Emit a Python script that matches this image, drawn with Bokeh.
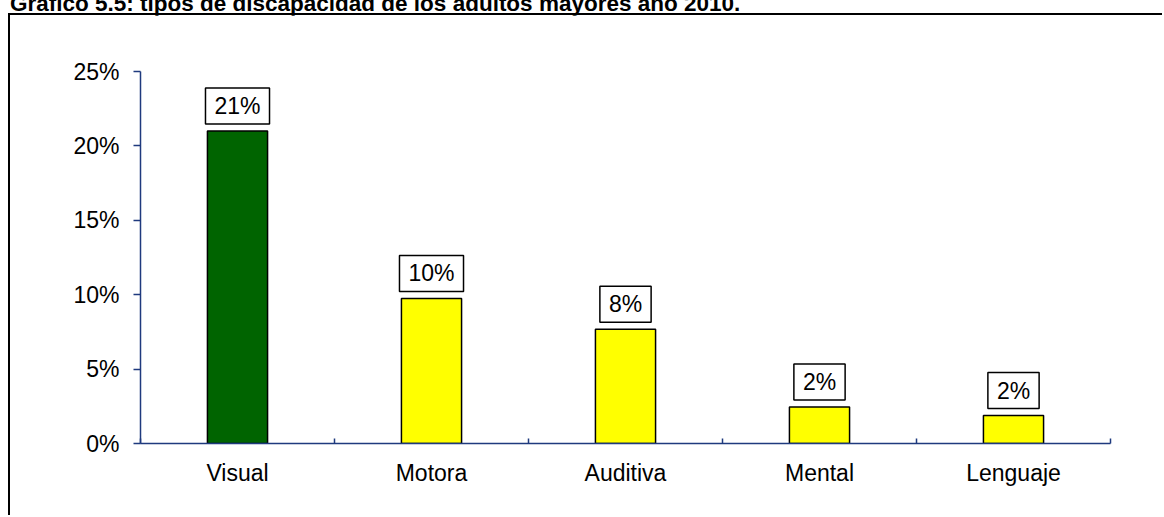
from bokeh.plotting import figure
from bokeh.models import (Range1d, LinearAxis, FixedTicker, PrintfTickFormatter,
                          ColumnDataSource, Div)
from bokeh.layouts import column
from bokeh.core.properties import value
from bokeh.embed import file_html
from bokeh.resources import INLINE

# ---- data ----
categories = ["Visual", "Motora", "Auditiva", "Mental", "Lenguaje"]
values = [21.0, 9.75, 7.67, 2.45, 1.88]
value_labels = ["21%", "10%", "8%", "2%", "2%"]
bar_colors = ["#006400", "#FFFF00", "#FFFF00", "#FFFF00", "#FFFF00"]
y_ticks = [0, 5, 10, 15, 20, 25]
title_text = "Gráfico 5.5: tipos de discapacidad de los adultos mayores año 2010."

FONT = "Liberation Sans"
NAVY = "#1f3a7e"

xs = [i + 0.5 for i in range(len(categories))]
source = ColumnDataSource(dict(x=xs, top=values, color=bar_colors, label=value_labels))

# title (partly cut by the top edge, as in the reference)
title_div = Div(text=title_text, width=1150, height=15,
                styles={"margin-left": "10px", "margin-top": "-7px",
                        "font-family": FONT, "font-weight": "bold", "font-size": "22.5px",
                        "line-height": "22.5px", "white-space": "nowrap", "color": "black"})

p = figure(width=1154, height=502, output_backend="svg", toolbar_location=None,
           x_range=Range1d(0, len(categories)), y_range=Range1d(0, 25),
           x_axis_type=None, y_axis_type=None,
           min_border_left=130, min_border_right=54, min_border_top=56, min_border_bottom=74)
p.styles = {"margin-left": "8px", "border-left": "2px solid black", "border-top": "2px solid black"}
p.outline_line_color = None
p.background_fill_color = "white"
p.border_fill_color = "white"

yaxis = LinearAxis(ticker=FixedTicker(ticks=y_ticks), formatter=PrintfTickFormatter(format="%d%%"),
                   axis_line_color=NAVY, axis_line_width=1.5,
                   major_tick_line_color=NAVY, major_tick_line_width=1.5,
                   major_tick_in=0, major_tick_out=7, minor_tick_line_color=None,
                   major_label_text_font=FONT, major_label_text_font_size="23px",
                   major_label_text_color="black", major_label_standoff=14)
p.add_layout(yaxis, "left")

xaxis = LinearAxis(ticker=FixedTicker(ticks=xs, minor_ticks=list(range(len(categories) + 1))),
                   major_label_overrides={x: c for x, c in zip(xs, categories)},
                   axis_line_color=NAVY, axis_line_width=1.5,
                   major_tick_line_color=None, major_tick_in=0, major_tick_out=0,
                   minor_tick_line_color=NAVY, minor_tick_line_width=1.5,
                   minor_tick_in=5, minor_tick_out=0,
                   major_label_text_font=FONT, major_label_text_font_size="23px",
                   major_label_text_color="black", major_label_standoff=16)
p.add_layout(xaxis, "below")

p.vbar(x="x", top="top", width=0.31, source=source, fill_color="color",
       line_color="black", line_width=1.5)

p.text(x="x", y="top", text="label", source=source, y_offset=-7,
       text_align="center", text_baseline="bottom",
       text_font=value(FONT), text_font_size="23px", text_color="black",
       background_fill_color="white", border_line_color="black", border_line_width=1.5,
       padding=dict(left=9, right=9, top=5, bottom=5))

layout = column(title_div, p, spacing=0)
open("out.html", "w").write(file_html(layout, INLINE))
